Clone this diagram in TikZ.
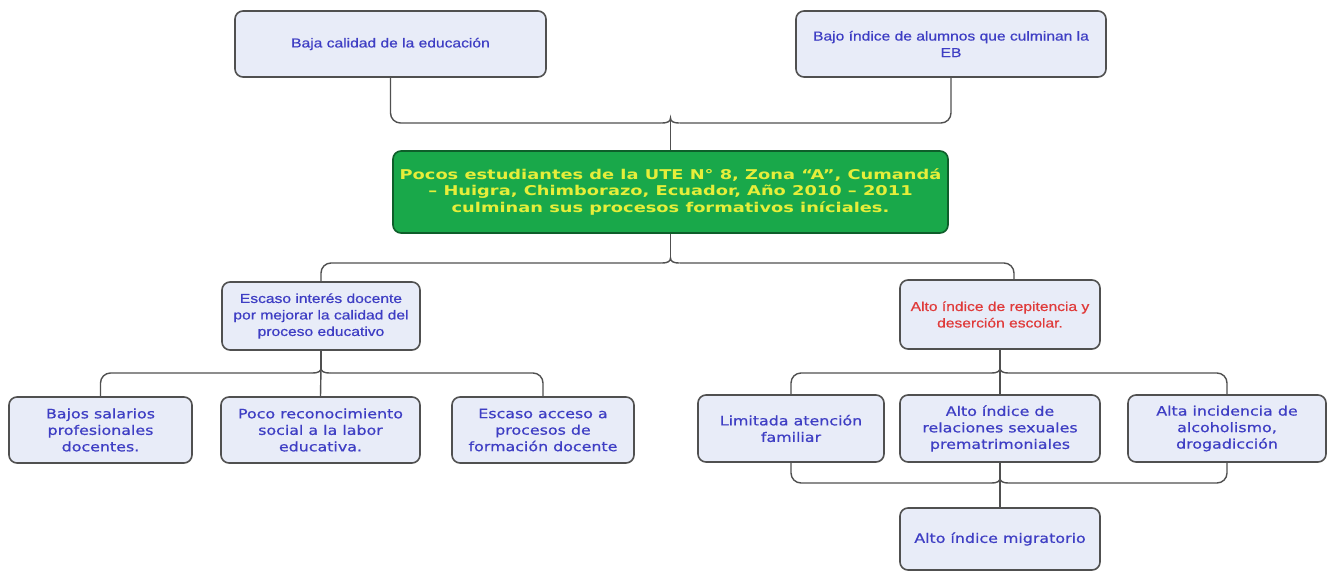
\documentclass[tikz,border=0pt]{standalone}
\usepackage{fontspec}
\setmainfont{Liberation Sans}
\newfontfamily\arf[FakeStretch=1.2,FakeBold=0.6]{Liberation Sans}
\newfontfamily\vef[FakeStretch=1.22,FakeBold=0.7]{DejaVu Sans}
\newfontfamily\gbf[FakeStretch=1.32]{DejaVu Sans}
\usetikzlibrary{calc}
\definecolor{boxfill}{HTML}{E8ECF8}
\definecolor{boxline}{HTML}{505050}
\definecolor{bluetxt}{HTML}{3E3EC4}
\definecolor{redtxt}{HTML}{E03A3A}
\definecolor{gfill}{HTML}{19A84A}
\definecolor{gline}{HTML}{0E5E2A}
\definecolor{ytxt}{HTML}{E6EE3A}
\definecolor{conncol}{HTML}{505050}
\newcommand\mybrace[1]{\draw[cn] ($(#1)+(-9,5)$) .. controls ($(#1)+(-2,5)$) and ($(#1)+(0,3)$) .. (#1) .. controls ($(#1)+(0,3)$) and ($(#1)+(2,5)$) .. ($(#1)+(9,5)$);}
\begin{document}
\begin{tikzpicture}[x=1pt,y=-1pt,
  bx/.style={draw=boxline, fill=boxfill, line width=1.6pt, rounded corners=8pt,
    inner sep=0pt, align=center, text=bluetxt},
  arialtxt/.style={font=\arf\fontsize{13}{16.5}\selectfont},
  verdtxt/.style={font=\vef\fontsize{13}{16.5}\selectfont},
  gbox/.style={draw=gline, fill=gfill, line width=1.6pt, rounded corners=8pt,
    inner sep=0pt, align=center, text=ytxt,
    font=\gbf\bfseries\fontsize{13.5}{16.5}\selectfont},
  cn/.style={draw=conncol, line width=1.4pt},
  rc/.style={cn, rounded corners=10pt}]
\useasboundingbox (0,0) rectangle (1333,573);
\fill[white] (0,0) rectangle (1333,573);

% nodes
\node[bx, arialtxt, minimum width=311pt, minimum height=66pt] (top1) at (390.5,44) {Baja calidad de la educación};
\node[bx, arialtxt, minimum width=310pt, minimum height=66pt] (top2) at (951,44) {Bajo índice de alumnos que culminan la\\EB};
\node[gbox, minimum width=555pt, minimum height=82pt] (green) at (670.5,192) {Pocos estudiantes de la UTE N° 8, Zona “A”, Cumandá\\– Huigra, Chimborazo, Ecuador, Año 2010 – 2011\\culminan sus procesos formativos iníciales.};
\node[bx, arialtxt, minimum width=198pt, minimum height=68pt] (mid1) at (321,316) {Escaso interés docente\\por mejorar la calidad del\\proceso educativo};
\node[bx, arialtxt, text=redtxt, minimum width=200pt, minimum height=69pt] (mid2) at (1000,314.5) {Alto índice de repitencia y\\deserción escolar.};

\node[bx, verdtxt, minimum width=183pt, minimum height=66pt] (b1) at (100.5,430) {Bajos salarios\\profesionales\\docentes.};
\node[bx, verdtxt, minimum width=199pt, minimum height=66pt] (b2) at (320.5,430) {Poco reconocimiento\\social a la labor\\educativa.};
\node[bx, verdtxt, minimum width=182pt, minimum height=66pt] (b3) at (543,430) {Escaso acceso a\\procesos de\\formación docente};

\node[bx, verdtxt, minimum width=186pt, minimum height=67pt] (c1) at (791,428.5) {Limitada atención\\familiar};
\node[bx, verdtxt, minimum width=200pt, minimum height=67pt] (c2) at (1000,428.5) {Alto índice de\\relaciones sexuales\\prematrimoniales};
\node[bx, verdtxt, minimum width=198pt, minimum height=67pt] (c3) at (1227,428.5) {Alta incidencia de\\alcoholismo,\\drogadicción};

\node[bx, verdtxt, minimum width=200pt, minimum height=62pt] (migr) at (1000,539) {Alto índice migratorio};

% junction points (tips of the small braces)
\coordinate (J1) at (670.5,118);
\coordinate (J2) at (670.5,258);
\coordinate (J3) at (321,368);
\coordinate (J4) at (1000,368);
\coordinate (J5) at (1000,478);

% top bracket
\draw[rc] (top1.south) |- ($(J1)+(-9,5)$);
\mybrace{J1}
\draw[rc] ($(J1)+(9,5)$) -| (top2.south);
\draw[cn] (J1) -- (green.north);

% middle bracket
\draw[cn] (green.south) -- (J2);
\draw[rc] ($(J2)+(-9,5)$) -| (mid1.north);
\mybrace{J2}
\draw[rc] ($(J2)+(9,5)$) -| ($(mid2.north)+(14,0)$);

% left lower bracket
\draw[cn] (mid1.south) -- (J3);
\draw[rc] ($(J3)+(-9,5)$) -| (b1.north);
\mybrace{J3}
\draw[rc] ($(J3)+(9,5)$) -| (b3.north);
\draw[cn] (J3) -- (b2.north);

% right lower bracket
\draw[cn] (mid2.south) -- (J4);
\draw[rc] ($(J4)+(-9,5)$) -| (c1.north);
\mybrace{J4}
\draw[rc] ($(J4)+(9,5)$) -| (c3.north);
\draw[cn] (J4) -- (c2.north);

% bottom bracket
\draw[rc] (c1.south) |- ($(J5)+(-9,5)$);
\mybrace{J5}
\draw[rc] ($(J5)+(9,5)$) -| (c3.south);
\draw[cn] (c2.south) -- (J5);
\draw[cn] (J5) -- (migr.north);
\end{tikzpicture}
\end{document}
